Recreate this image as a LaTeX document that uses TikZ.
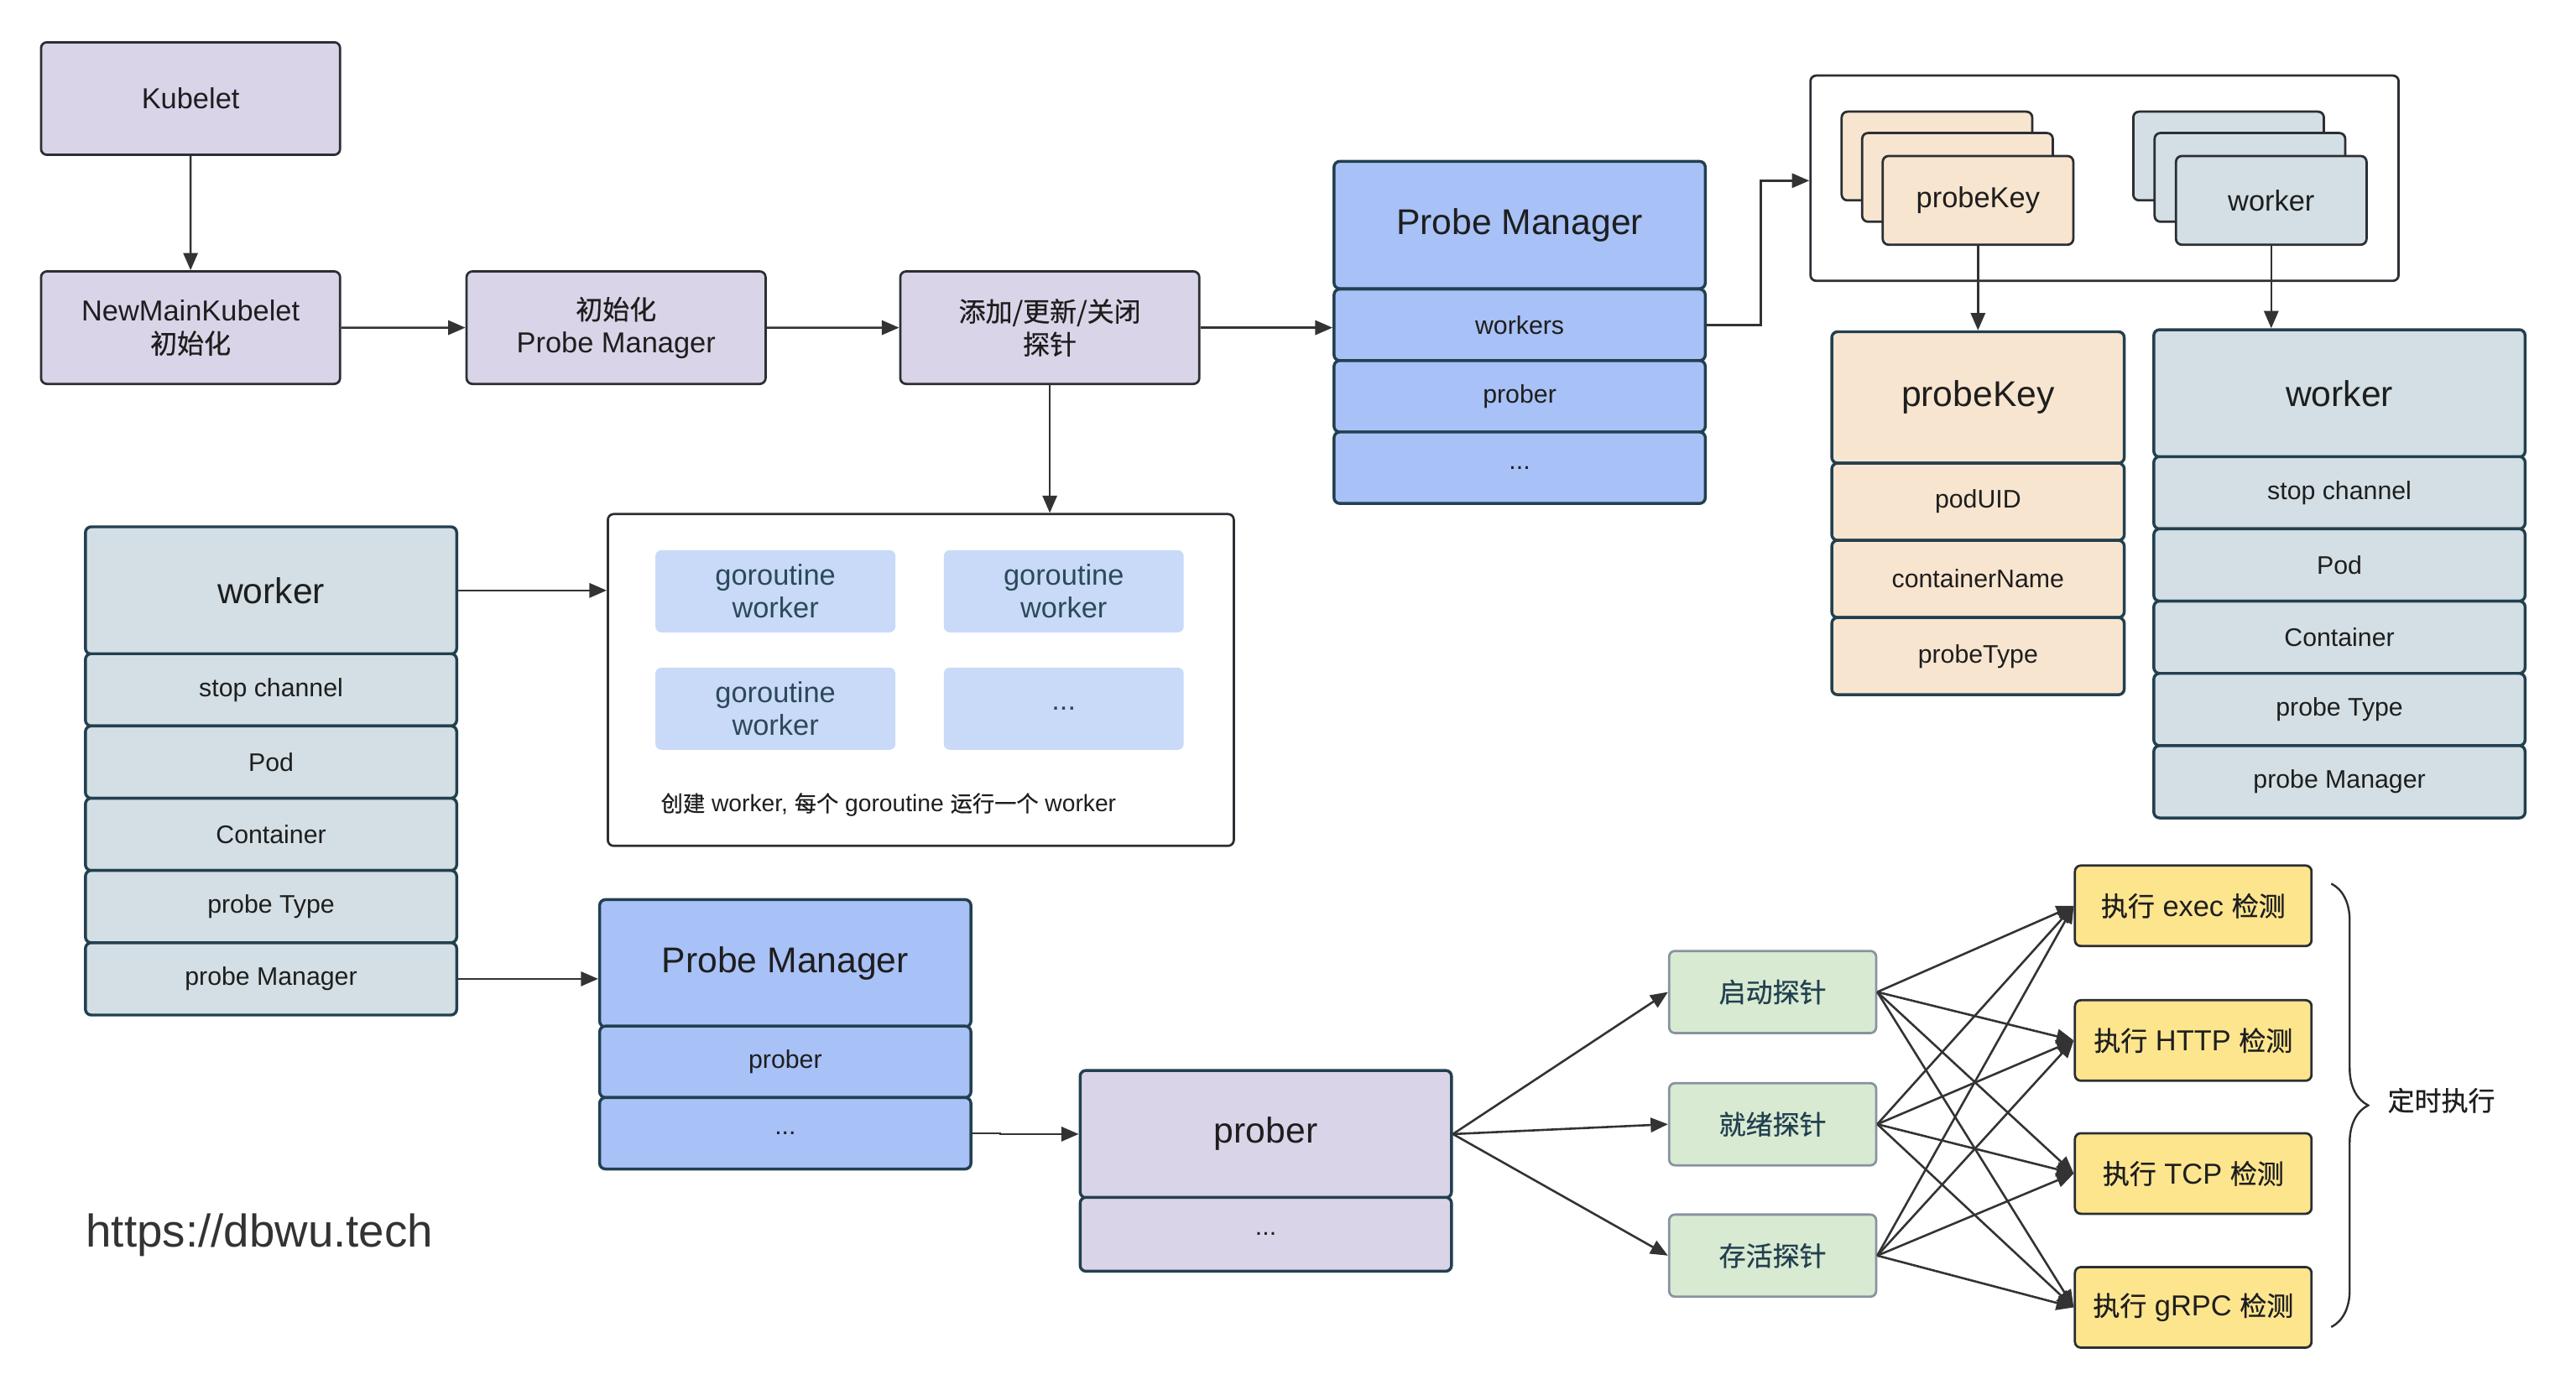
\documentclass[tikz,border=0pt]{standalone}
\usepackage{fontspec}
\setmainfont{Liberation Sans}
\newfontfamily\cjk{Noto Sans CJK SC}[Scale=0.93, FakeBold=0.6]
\usetikzlibrary{arrows.meta,decorations.pathreplacing}

\definecolor{cLav}{HTML}{DAD4E8}
\definecolor{cBlue}{HTML}{A8C1F7}
\definecolor{cSlate}{HTML}{D3DFE4}
\definecolor{cPeach}{HTML}{F8E5D0}
\definecolor{cGo}{HTML}{C9DAF8}
\definecolor{cGreen}{HTML}{D9EAD3}
\definecolor{cYellow}{HTML}{FDE58E}
\definecolor{cEdge}{HTML}{2B2F33}
\definecolor{cTeal}{HTML}{22404F}
\definecolor{cGray}{HTML}{8893A0}
\definecolor{cInk}{HTML}{1E1E1E}
\definecolor{cLine}{HTML}{333333}
\definecolor{cGoInk}{HTML}{2C4A5A}

\begin{document}
\begin{tikzpicture}[scale=0.2]
    \tikzstyle{every node}+=[inner sep=0pt, align=center, text=cInk]
    \tikzstyle{box}=[rounded corners=2pt, line width=0.8pt]
    \tikzstyle{small}=[font=\fontsize{8.8}{10}\selectfont]
    \tikzstyle{mid}=[font=\fontsize{10}{11.4}\selectfont]
    \tikzstyle{big}=[font=\fontsize{12.4}{14}\selectfont]
    \tikzstyle{lav}=[box, mid, draw=cEdge, fill=cLav, minimum width=3.64cm, minimum height=1.37cm]
    \tikzstyle{pmhead}=[box, big, line width=1pt, draw=cTeal, fill=cBlue, minimum width=4.52cm, minimum height=1.55cm]
    \tikzstyle{pmrow}=[box, small, line width=1pt, draw=cTeal, fill=cBlue, minimum width=4.52cm, minimum height=0.87cm]
    \tikzstyle{wkhead}=[pmhead, fill=cSlate]
    \tikzstyle{wkrow}=[pmrow, fill=cSlate, minimum height=0.88cm]
    \tikzstyle{pkhead}=[pmhead, fill=cPeach, minimum width=3.56cm, minimum height=1.6cm]
    \tikzstyle{pkrow}=[pmrow, fill=cPeach, minimum width=3.56cm, minimum height=0.94cm]
    \tikzstyle{lavhead}=[pmhead, fill=cLav]
    \tikzstyle{lavrow}=[pmrow, fill=cLav, minimum height=0.9cm]
    \tikzstyle{card}=[box, mid, draw=cEdge, minimum width=2.32cm, minimum height=1.08cm]
    \tikzstyle{frame}=[box, draw=cEdge, fill=white]
    \tikzstyle{gobox}=[rounded corners=2pt, mid, fill=cGo, text=cGoInk, minimum width=2.92cm, minimum height=1.0cm]
    \tikzstyle{probe}=[box, mid, draw=cGray, fill=cGreen, text=cTeal, minimum width=2.52cm, minimum height=1.0cm]
    \tikzstyle{check}=[box, mid, draw=cEdge, fill=cYellow, minimum width=2.88cm, minimum height=0.98cm]
    \tikzstyle{arr}=[draw=cLine, line width=0.75pt, -{Triangle[length=6pt,width=5pt]}]
    \useasboundingbox (0,0) rectangle (156.8,-84.6);

    % kubelet start up
    \node [lav] (kubelet) at (11.6,-6.0) {Kubelet};
    \node [lav] (newmain) at (11.6,-19.95) {NewMainKubelet\\{\cjk 初始化}};
    \node [lav] (initpm) at (37.5,-19.95) {{\cjk 初始化}\\Probe Manager};
    \node [lav] (addprobe) at (63.9,-19.95) {{\cjk 添加/更新/关闭}\\{\cjk 探针}};

    % probe manager (top)
    \node [pmhead] (pmttitle) at (92.5,-13.7) {Probe Manager};
    \node [pmrow] (pmtworkers) at (92.5,-19.78) {workers};
    \node [pmrow] (pmtprober) at (92.5,-24.13) {prober};
    \node [pmrow] (pmtdots) at (92.5,-28.48) {...};

    % workers map
    \node [frame, minimum width=7.16cm, minimum height=2.5cm] (keyframe) at (128.1,-10.85) {};
    \node [card, fill=cPeach] (pkcard1) at (117.9,-9.5) {};
    \node [card, fill=cPeach] (pkcard2) at (119.15,-10.8) {};
    \node [card, fill=cPeach] (pkcard3) at (120.4,-12.2) {probeKey};
    \node [card, fill=cSlate] (wkcard1) at (135.65,-9.5) {};
    \node [card, fill=cSlate] (wkcard2) at (136.95,-10.8) {};
    \node [card, fill=cSlate] (wkcard3) at (138.25,-12.2) {worker};

    % probeKey
    \node [pkhead] (pktitle) at (120.4,-24.2) {probeKey};
    \node [pkrow] (pkuid) at (120.4,-30.55) {podUID};
    \node [pkrow] (pkcname) at (120.4,-35.25) {containerName};
    \node [pkrow] (pktype) at (120.4,-39.95) {probeType};

    % worker (right)
    \node [wkhead] (wrtitle) at (142.4,-23.95) {worker};
    \node [wkrow] (wrstop) at (142.4,-30.0) {stop channel};
    \node [wkrow] (wrpod) at (142.4,-34.4) {Pod};
    \node [wkrow] (wrcont) at (142.4,-38.8) {Container};
    \node [wkrow] (wrtype) at (142.4,-43.2) {probe Type};
    \node [wkrow] (wrpm) at (142.4,-47.6) {probe Manager};

    % worker (left)
    \node [wkhead] (wltitle) at (16.5,-35.95) {worker};
    \node [wkrow] (wlstop) at (16.5,-42.0) {stop channel};
    \node [wkrow] (wlpod) at (16.5,-46.4) {Pod};
    \node [wkrow] (wlcont) at (16.5,-50.8) {Container};
    \node [wkrow] (wltype) at (16.5,-55.2) {probe Type};
    \node [wkrow] (wlpm) at (16.5,-59.6) {probe Manager};

    % goroutines
    \node [frame, minimum width=7.62cm, minimum height=4.04cm] (goframe) at (56.05,-41.4) {};
    \node [gobox] (go1) at (47.2,-36.0) {goroutine\\worker};
    \node [gobox] (go2) at (64.75,-36.0) {goroutine\\worker};
    \node [gobox] (go3) at (47.2,-43.15) {goroutine\\worker};
    \node [gobox] (go4) at (64.75,-43.15) {...};
    \node [font=\fontsize{8.2}{10}\selectfont, anchor=west] (gonote) at (40.2,-49.0)
        {{\cjk 创建} worker, {\cjk 每个} goroutine {\cjk 运行一个} worker};

    % probe manager (bottom)
    \node [pmhead] (pmbtitle) at (47.8,-58.65) {Probe Manager};
    \node [pmrow] (pmbprober) at (47.8,-64.65) {prober};
    \node [pmrow] (pmbdots) at (47.8,-69.0) {...};

    % prober
    \node [lavhead] (probertitle) at (77.05,-69.05) {prober};
    \node [lavrow] (proberdots) at (77.05,-75.15) {...};

    \node [probe] (startp) at (107.9,-60.4) {\cjk 启动探针};
    \node [probe] (readyp) at (107.9,-68.45) {\cjk 就绪探针};
    \node [probe] (livep) at (107.9,-76.45) {\cjk 存活探针};

    \node [check] (execc) at (133.5,-55.15) {{\cjk 执行} exec {\cjk 检测}};
    \node [check] (httpc) at (133.5,-63.35) {{\cjk 执行} HTTP {\cjk 检测}};
    \node [check] (tcpc) at (133.5,-71.45) {{\cjk 执行} TCP {\cjk 检测}};
    \node [check] (grpcc) at (133.5,-79.6) {{\cjk 执行} gRPC {\cjk 检测}};

    \coordinate (bracetop) at (141.9,-53.8);
    \coordinate (bracebot) at (141.9,-80.8);
    \draw [cEdge, line width=0.7pt, decorate, decoration={brace, amplitude=0.45cm}] (bracetop) -- (bracebot);
    \node [mid, anchor=west] (timed) at (145.3,-67.0) {\cjk 定时执行};

    \node [font=\fontsize{15.9}{17}\selectfont, text=cLine, anchor=west] (site) at (5.2,-75.2) {https://dbwu.tech};

    % connectors
    \draw [arr] (kubelet) -- (newmain);
    \draw [arr] (newmain) -- (initpm);
    \draw [arr] (initpm) -- (addprobe);
    \draw [arr] (addprobe.east) -- (addprobe.east -| pmtworkers.west);
    \draw [arr] (pmtworkers.east) -- ++(3.3,0) |- ([yshift=-0.15cm]keyframe.west);
    \draw [arr] (pkcard3.south) -- (pkcard3.south |- pktitle.north);
    \draw [arr] (wkcard3.south) -- (wkcard3.south |- wrtitle.north);
    \draw [arr] (addprobe.south) -- (addprobe.south |- goframe.north);
    \draw [arr] (wltitle.east) -- (wltitle.east -| goframe.west);
    \draw [arr] (wlpm.east) -- (wlpm.east -| pmbtitle.west);
    \draw [arr] (pmbdots.east) -- ++(1.7,0) |- (probertitle.west);
    \foreach \p in {startp,readyp,livep}
        \draw [arr] (probertitle.east) -- (\p.west);
    \foreach \p in {startp,readyp,livep}
        \foreach \c in {execc,httpc,tcpc,grpcc}
            \draw [arr] (\p.east) -- (\c.west);
\end{tikzpicture}
\end{document}
